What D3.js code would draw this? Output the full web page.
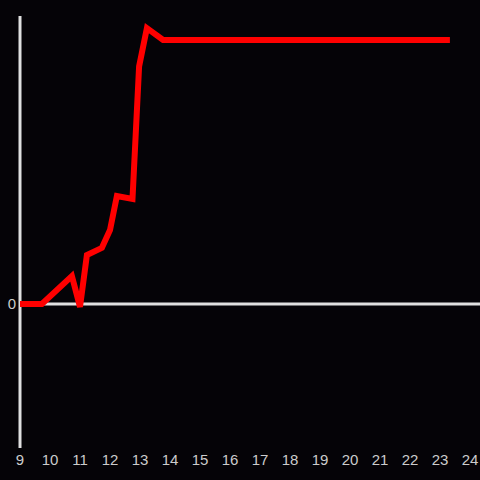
<!DOCTYPE html>
<html>
<head>
<meta charset="utf-8">
<script src="https://cdn.jsdelivr.net/npm/d3@7"></script>
<style>
  body { margin: 0; background: #050307; }
  svg { display: block; }
</style>
</head>
<body>
<div id="chart"></div>
<script>
const WIDTH = 480;
const HEIGHT = 480;

// hour of day vs value
const hours = [9, 9.73, 10.73, 11.0, 11.23, 11.73, 12.0, 12.23, 12.75, 12.97, 13.23, 13.77, 23.33];
const values = [0, 0, 9.7, -1, 17, 19.5, 25.7, 37.5, 36.5, 82.5, 95.8, 91.7, 91.7];
const xTicks = d3.range(9, 25);

const data = hours.map((h, i) => ({ x: h, y: values[i] }));

let xScale = d3.scaleLinear().domain([9, 24]).range([20, 470]);
let yScale = d3.scaleLinear().domain([-50, 100]).range([448, 16]);

let svg = d3.select("#chart").append("svg")
    .attr("width", WIDTH)
    .attr("height", HEIGHT);

svg.append("rect")
    .attr("width", WIDTH)
    .attr("height", HEIGHT)
    .attr("fill", "#050307");

// vertical axis line
svg.append("line")
    .attr("x1", xScale(9)).attr("x2", xScale(9))
    .attr("y1", yScale(100)).attr("y2", yScale(-50))
    .attr("stroke", "#e0e0e0")
    .attr("stroke-width", 3);

// zero line
svg.append("line")
    .attr("x1", xScale(9)).attr("x2", WIDTH)
    .attr("y1", yScale(0)).attr("y2", yScale(0))
    .attr("stroke", "#e0e0e0")
    .attr("stroke-width", 3);

svg.append("text")
    .attr("x", 12)
    .attr("y", yScale(0))
    .attr("dy", "0.35em")
    .attr("text-anchor", "middle")
    .attr("font-family", "Liberation Sans, Arial, sans-serif")
    .attr("font-size", 15)
    .attr("fill", "#cccccc")
    .text("0");

svg.selectAll(".xtick")
    .data(xTicks)
    .enter().append("text")
    .attr("class", "xtick")
    .attr("x", d => xScale(d))
    .attr("y", 460)
    .attr("dy", "0.35em")
    .attr("text-anchor", "middle")
    .attr("font-family", "Liberation Sans, Arial, sans-serif")
    .attr("font-size", 15)
    .attr("fill", "#cccccc")
    .text(d => d);

let line = d3.line()
    .x(d => xScale(d.x))
    .y(d => yScale(d.y));

svg.append("path")
    .datum(data)
    .attr("d", line)
    .attr("fill", "none")
    .attr("stroke", "#ff0000")
    .attr("stroke-width", 6)
    .attr("stroke-linejoin", "miter");
</script>
</body>
</html>
